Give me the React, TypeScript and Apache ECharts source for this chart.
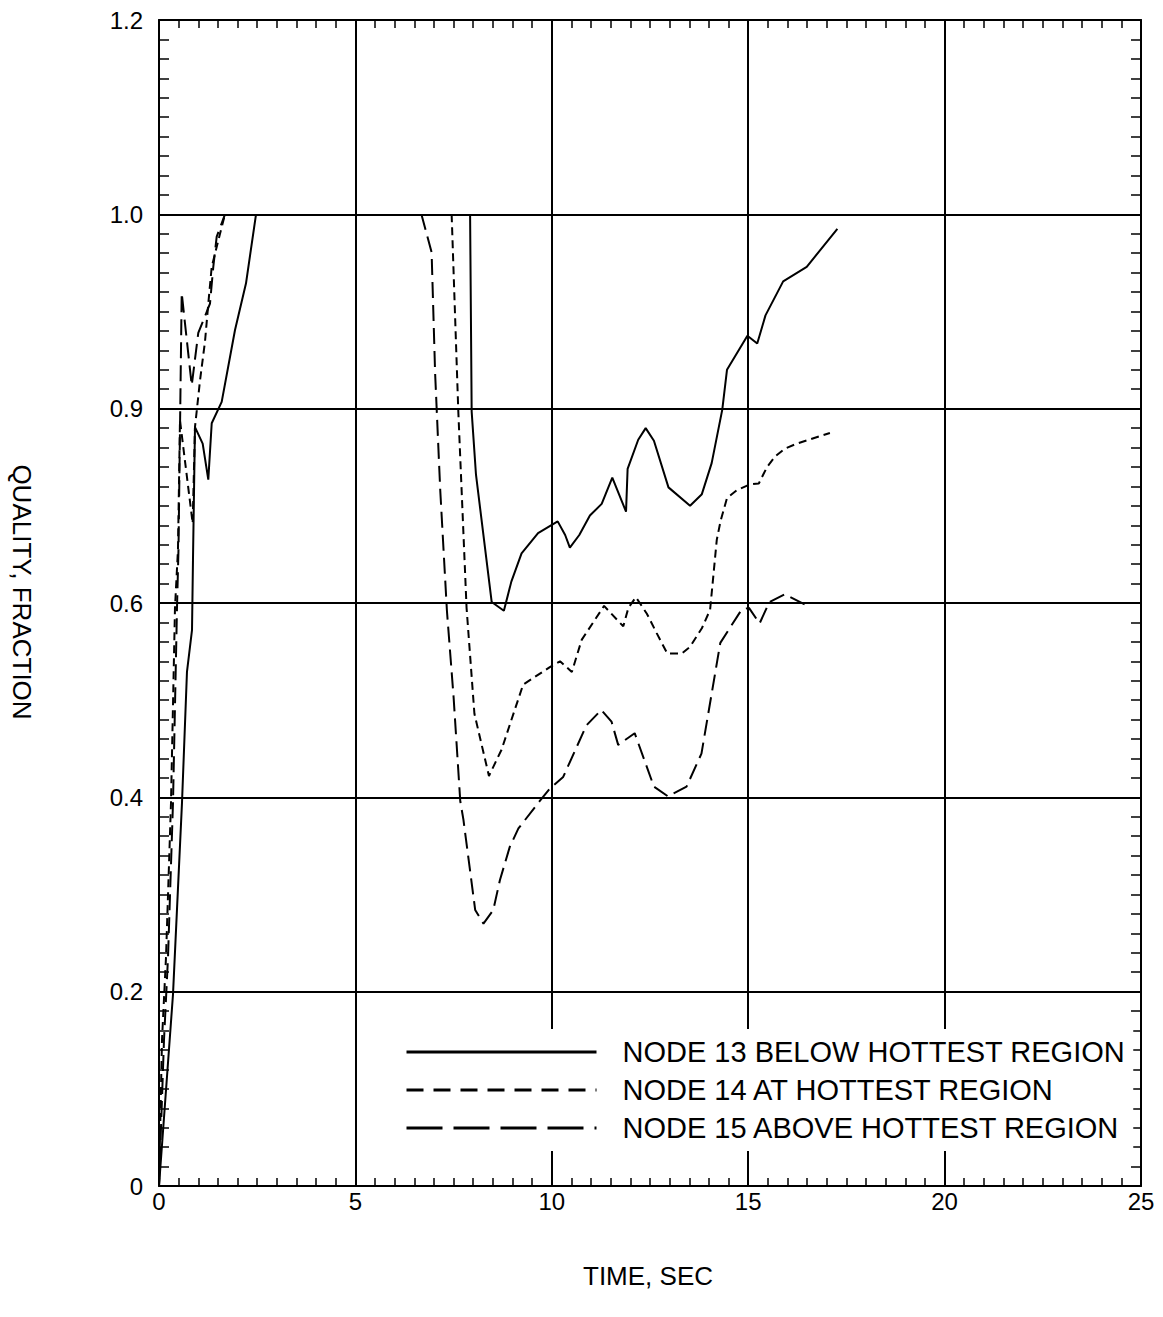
import React, { useEffect, useRef } from "react";
import * as echarts from "echarts";

// ---- axis ticks ----
const xMin = 0;
const xMax = 25;
const xInterval = 5;
const yMin = 0;
const yMax = 1.2;
const yInterval = 0.2;
const yTickLabels = ["0", "0.2", "0.4", "0.6", "0.9", "1.0", "1.2"];

const xTitle = "TIME, SEC";
const yTitle = "QUALITY, FRACTION";

const legendNames = [
  "NODE 13 BELOW HOTTEST REGION",
  "NODE 14 AT HOTTEST REGION",
  "NODE 15 ABOVE HOTTEST REGION",
];

// ---- NODE 13 (solid) ----
const node13Early: [number, number][] = [
  [0, 0], [0.356, 0.197], [0.585, 0.394], [0.712, 0.529], [0.84, 0.572],
  [0.865, 0.644], [0.916, 0.781], [1.112, 0.764], [1.255, 0.727], [1.342, 0.785],
  [1.596, 0.807], [1.935, 0.881], [2.215, 0.929], [2.47, 1.0],
];
const node13Late: [number, number][] = [
  [7.92, 1.0], [7.96, 0.797], [8.07, 0.732], [8.47, 0.601], [8.78, 0.592],
  [8.97, 0.622], [9.23, 0.651], [9.65, 0.672], [10.15, 0.684], [10.34, 0.67],
  [10.46, 0.657], [10.7, 0.67], [10.97, 0.69], [11.27, 0.702], [11.54, 0.729],
  [11.89, 0.694], [11.93, 0.738], [12.2, 0.768], [12.39, 0.78], [12.6, 0.767],
  [12.97, 0.719], [13.52, 0.7], [13.82, 0.712], [14.07, 0.744], [14.34, 0.799],
  [14.46, 0.84], [14.98, 0.875], [15.23, 0.867], [15.44, 0.896], [15.89, 0.931],
  [16.49, 0.946], [17.27, 0.985],
];

// ---- NODE 14 (short dash) ----
const node14Early: [number, number][] = [
  [0, 0], [0.076, 0.15], [0.178, 0.235], [0.305, 0.394], [0.407, 0.595],
  [0.483, 0.655], [0.534, 0.788], [0.857, 0.682], [0.916, 0.781], [1.044, 0.829],
  [1.171, 0.869], [1.255, 0.908], [1.342, 0.946], [1.553, 0.98], [1.68, 1.0],
];
const node14Late: [number, number][] = [
  [7.45, 1.0], [7.62, 0.797], [7.83, 0.595], [8.03, 0.486], [8.4, 0.422],
  [8.72, 0.449], [9.27, 0.516], [9.95, 0.534], [10.21, 0.54], [10.51, 0.529],
  [10.76, 0.562], [11.33, 0.597], [11.82, 0.576], [11.95, 0.595], [12.14, 0.606],
  [12.42, 0.589], [12.67, 0.569], [12.94, 0.548], [13.31, 0.548], [13.52, 0.555],
  [13.82, 0.574], [14.03, 0.593], [14.2, 0.665], [14.3, 0.685], [14.46, 0.708],
  [14.71, 0.716], [15.04, 0.722], [15.27, 0.723], [15.48, 0.74], [15.69, 0.751],
  [15.94, 0.759], [16.24, 0.764], [17.08, 0.775],
];

// ---- NODE 15 (long dash) ----
const node15Early: [number, number][] = [
  [0, 0], [0.127, 0.15], [0.229, 0.235], [0.356, 0.394], [0.458, 0.595],
  [0.496, 0.655], [0.578, 0.919], [0.833, 0.824], [1.0, 0.878], [1.298, 0.908],
  [1.382, 0.946], [1.469, 0.977], [1.68, 1.0],
];
const node15Late: [number, number][] = [
  [6.68, 1.0], [6.94, 0.961], [7.03, 0.836], [7.16, 0.716], [7.33, 0.592],
  [7.5, 0.503], [7.67, 0.396], [7.75, 0.377], [8.05, 0.284], [8.26, 0.27],
  [8.51, 0.284], [8.68, 0.315], [8.93, 0.349], [9.15, 0.368], [9.69, 0.396],
  [9.95, 0.409], [10.29, 0.421], [10.88, 0.474], [11.26, 0.49], [11.52, 0.478],
  [11.69, 0.454], [12.11, 0.466], [12.6, 0.411], [12.96, 0.401], [13.43, 0.411],
  [13.81, 0.445], [14.29, 0.559], [14.83, 0.593], [15.02, 0.595], [15.29, 0.579],
  [15.54, 0.601], [15.93, 0.609], [16.56, 0.596],
];

const FONT = "'Liberation Sans', Arial, Helvetica, sans-serif";

export default function App() {
  const ref = useRef<HTMLDivElement>(null);

  useEffect(() => {
    if (!ref.current) return;
    const chart = echarts.init(ref.current, undefined, { renderer: "svg" });

    const dashShort = [8, 5];
    const dashLong = [16, 7];

    const mkSeries = (name: string, data: [number, number][], type: any) => ({
      type: "line",
      name,
      data,
      xAxisIndex: 0,
      yAxisIndex: 0,
      symbol: "none",
      silent: true,
      z: 5,
      lineStyle: { color: "#000", width: 2, type },
    });

    const minorCommon = {
      show: true,
      splitNumber: 10,
    };

    chart.setOption({
      animation: false,
      backgroundColor: "#fff",
      textStyle: { fontFamily: FONT, color: "#000" },
      grid: { left: 159, right: 22, top: 20, bottom: 131, containLabel: false },
      xAxis: [
        {
          type: "value",
          min: xMin,
          max: xMax,
          interval: xInterval,
          position: "bottom",
          axisLine: { show: true, onZero: false, lineStyle: { color: "#000", width: 2 } },
          axisTick: { show: true, inside: true, length: 8, lineStyle: { color: "#000", width: 1.5 } },
          minorTick: { ...minorCommon, length: 8, lineStyle: { color: "#000", width: 1.5 } },
          splitLine: { show: true, lineStyle: { color: "#000", width: 2 } },
          axisLabel: { color: "#000", fontSize: 24, fontFamily: FONT, margin: 3 },
        },
        {
          type: "value",
          min: xMin,
          max: xMax,
          interval: xInterval,
          position: "top",
          axisLine: { show: true, onZero: false, lineStyle: { color: "#000", width: 2 } },
          axisTick: { show: true, inside: true, length: 8, lineStyle: { color: "#000", width: 1.5 } },
          minorTick: { ...minorCommon, length: 8, lineStyle: { color: "#000", width: 1.5 } },
          splitLine: { show: false },
          axisLabel: { show: false },
        },
      ],
      yAxis: [
        {
          type: "value",
          min: yMin,
          max: yMax,
          interval: yInterval,
          position: "left",
          axisLine: { show: true, onZero: false, lineStyle: { color: "#000", width: 2 } },
          axisTick: { show: true, inside: true, length: 10, lineStyle: { color: "#000", width: 1.5 } },
          minorTick: { ...minorCommon, length: 10, lineStyle: { color: "#000", width: 1.5 } },
          splitLine: { show: true, lineStyle: { color: "#000", width: 2 } },
          axisLabel: {
            color: "#000",
            fontSize: 24,
            fontFamily: FONT,
            margin: 16,
            formatter: (v: number) => yTickLabels[Math.round(v / yInterval)] ?? "",
          },
        },
        {
          type: "value",
          min: yMin,
          max: yMax,
          interval: yInterval,
          position: "right",
          axisLine: { show: true, onZero: false, lineStyle: { color: "#000", width: 2 } },
          axisTick: { show: true, inside: true, length: 10, lineStyle: { color: "#000", width: 1.5 } },
          minorTick: { ...minorCommon, length: 10, lineStyle: { color: "#000", width: 1.5 } },
          splitLine: { show: false },
          axisLabel: { show: false },
        },
      ],
      legend: {
        show: true,
        orient: "vertical",
        left: 392,
        top: 1029,
        padding: [7, 8, 7, 13],
        backgroundColor: "#fff",
        itemWidth: 190,
        itemHeight: 14,
        itemGap: 6,
        selectedMode: false,
        z: 10,
        itemStyle: { color: "rgba(0,0,0,0)", opacity: 0, borderWidth: 0 },
        textStyle: {
          color: "#000",
          fontSize: 29,
          fontFamily: FONT,
          lineHeight: 32,
          padding: [0, 0, 0, 21],
        },
        data: [
          { name: legendNames[0], lineStyle: { type: "solid", width: 3, color: "#000", opacity: 1 } },
          { name: legendNames[1], lineStyle: { type: [17, 10], width: 3, color: "#000", opacity: 1 } },
          { name: legendNames[2], lineStyle: { type: [36, 11], width: 3, color: "#000", opacity: 1 } },
        ],
      },
      graphic: [
        {
          type: "text",
          x: 648,
          y: 1276,
          style: {
            text: xTitle,
            fontSize: 26,
            fontFamily: FONT,
            fill: "#000",
            align: "center",
            verticalAlign: "middle",
            textAlign: "center",
            textVerticalAlign: "middle",
          },
        },
        {
          type: "text",
          x: 22,
          y: 592,
          rotation: -Math.PI / 2,
          style: {
            text: yTitle,
            fontSize: 26,
            fontFamily: FONT,
            fill: "#000",
            align: "center",
            verticalAlign: "middle",
            textAlign: "center",
            textVerticalAlign: "middle",
          },
        },
      ],
      series: [
        mkSeries(legendNames[0], node13Early, "solid"),
        mkSeries(legendNames[0], node13Late, "solid"),
        mkSeries(legendNames[1], node14Early, dashShort),
        mkSeries(legendNames[1], node14Late, dashShort),
        mkSeries(legendNames[2], node15Early, dashLong),
        mkSeries(legendNames[2], node15Late, dashLong),
      ],
    });

    return () => {
      chart.dispose();
    };
  }, []);

  return (
    <div
      ref={ref}
      style={{ position: "absolute", left: 0, top: 0, width: 1163, height: 1317 }}
    />
  );
}
